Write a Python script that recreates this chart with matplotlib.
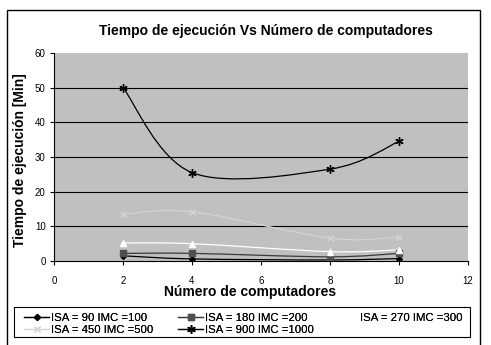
import matplotlib
matplotlib.use("Agg")
import matplotlib.pyplot as plt
from matplotlib.path import Path
from matplotlib.patches import PathPatch, Rectangle
from matplotlib.lines import Line2D

plt.rcParams['font.family'] = ['Liberation Sans', 'DejaVu Sans']

computadores = [2, 4, 8, 10]
isa_90 = [1.5, 0.6, 0.3, 0.7]
isa_180 = [2.2, 2.2, 1.2, 2.2]
isa_270 = [5.2, 5.0, 2.7, 3.2]
isa_450 = [13.5, 14.2, 6.6, 6.9]
isa_900 = [50, 25.5, 26.5, 34.5]

labels = ["ISA = 90 IMC =100", "ISA = 180 IMC =200", "ISA = 270 IMC =300",
          "ISA = 450 IMC =500", "ISA = 900 IMC =1000"]
series = [isa_90, isa_180, isa_270, isa_450, isa_900]
colors = ["#000000", "#3a3a3a", "#ffffff", "#d4d4d4", "#000000"]
marker_colors = ["#000000", "#505050", "#ffffff", "#d4d4d4", "#000000"]
markers = ["D", "s", "^", "x", (6, 2, 0)]
msizes = [3, 4, 5, 5, 6]


def smooth_path(xs, ys):
    # Excel-style smoothed line: cubic bezier through the points
    pts = list(zip(xs, ys))
    verts = [pts[0]]
    codes = [Path.MOVETO]
    n = len(pts)
    for i in range(n - 1):
        p0 = pts[i - 1] if i > 0 else pts[i]
        p1 = pts[i]
        p2 = pts[i + 1]
        p3 = pts[i + 2] if i + 2 < n else pts[i + 1]
        c1 = (p1[0] + (p2[0] - p0[0]) / 6, p1[1] + (p2[1] - p0[1]) / 6)
        c2 = (p2[0] - (p3[0] - p1[0]) / 6, p2[1] - (p3[1] - p1[1]) / 6)
        verts += [c1, c2, p2]
        codes += [Path.CURVE4] * 3
    return Path(verts, codes)


fig = plt.figure(figsize=(4.91, 3.45), dpi=100)
ax = fig.add_axes([54 / 491, 1 - 261 / 345, 414 / 491, 208 / 345])
ax.set_facecolor("#c0c0c0")
ax.set_xlim(0, 12)
ax.set_ylim(0, 60)
ax.set_xticks(range(0, 13, 2))
ax.set_yticks(range(0, 61, 10))
ax.tick_params(labelsize=7, length=3, width=0.8, direction='out')
ax.tick_params(axis='x', pad=8)
ax.tick_params(axis='y', pad=3)
for y in range(10, 60, 10):
    ax.axhline(y, color="black", lw=0.8, zorder=1)
for side in ["top", "right"]:
    ax.spines[side].set_visible(False)
ax.spines["left"].set_linewidth(0.8)
ax.spines["bottom"].set_linewidth(0.8)

handles = []
for vals, lab, c, mc, m, ms in zip(series, labels, colors, marker_colors, markers, msizes):
    patch = PathPatch(smooth_path(computadores, vals), fill=False, edgecolor=c, lw=0.9, zorder=3)
    ax.add_patch(patch)
    ax.plot(computadores, vals, linestyle="none", marker=m, color=mc, ms=ms, mew=1, zorder=4)
    handles.append(Line2D([], [], color=c, lw=0.9, marker=m, ms=ms, mfc=mc, mec=mc, label=lab))

fig.text(266 / 491, 1 - 31 / 345, "Tiempo de ejecución Vs Número de computadores",
         fontsize=10, fontweight="bold", ha="center", va="center")
fig.text(250 / 491, 1 - 292 / 345, "Número de computadores",
         fontsize=10, fontweight="bold", ha="center", va="center")
fig.text(20 / 491, 1 - 160 / 345, "Tiempo de ejecución [Min]", rotation=90,
         fontsize=10, fontweight="bold", ha="center", va="center")

# legend: three columns filled row by row, with a plain black frame
col_x = [24, 178, 333]
cols = [[handles[0], handles[3]], [handles[1], handles[4]], [handles[2]]]
for x0, hs in zip(col_x, cols):
    leg = fig.legend(handles=hs, loc="upper left",
                     bbox_to_anchor=(x0 / 491, 1 - 313 / 345),
                     fontsize=8.2, frameon=False, handlelength=2.2,
                     handletextpad=0.15, borderpad=0, labelspacing=0.2,
                     borderaxespad=0)
    fig.add_artist(leg)
fig.patches.append(Rectangle((14 / 491, 1 - 337 / 345), 456 / 491, 30 / 345,
                             transform=fig.transFigure, fill=False,
                             edgecolor="black", lw=0.8))

fig.patches.append(Rectangle((7 / 491, -0.02), 473 / 491, 1 - 10 / 345 + 0.02,
                             transform=fig.transFigure, fill=False,
                             edgecolor="black", lw=1))

fig.savefig("out.png", dpi=100)
